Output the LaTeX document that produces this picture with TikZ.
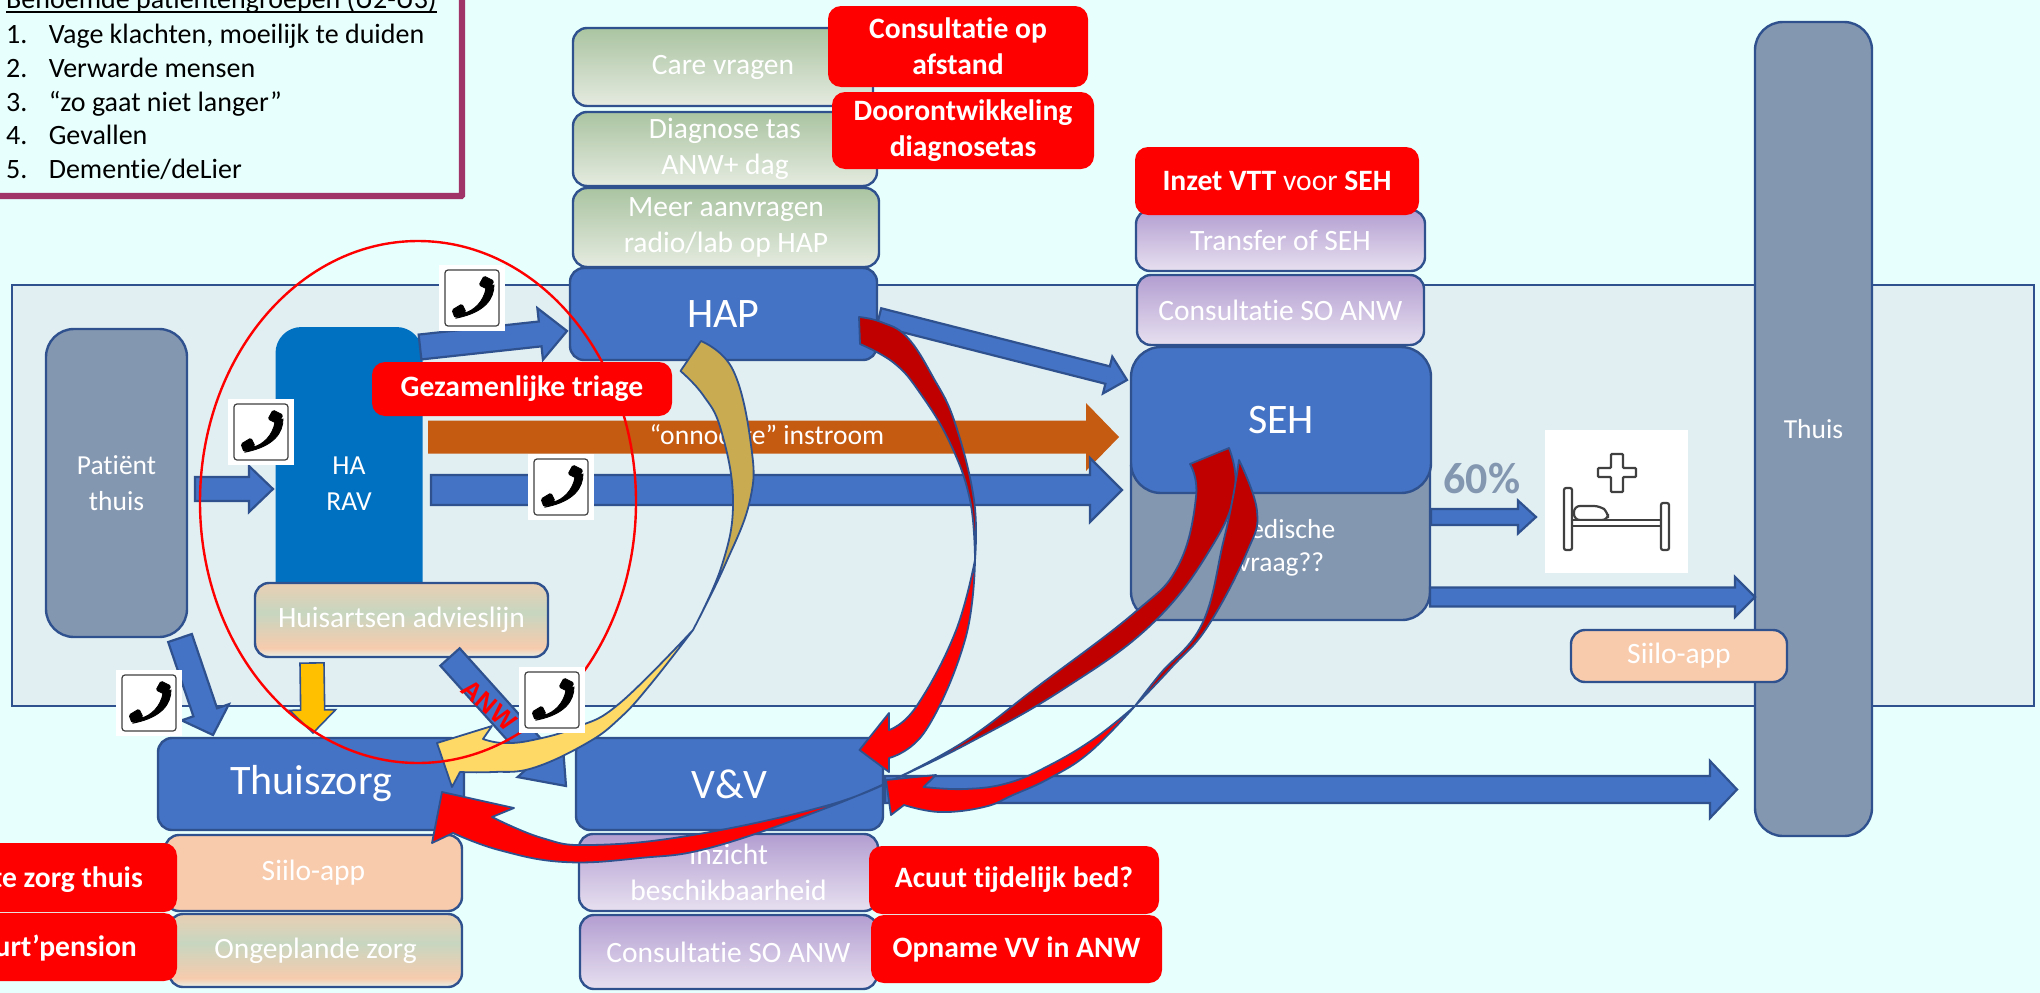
\documentclass[tikz,border=0pt]{standalone}
\usepackage{fontspec}
\setmainfont[Ligatures=NoCommon]{Carlito}
\newfontfamily\arialfont{Liberation Sans}
\usetikzlibrary{calc}
\definecolor{bgc}{HTML}{E7FFFD}
\definecolor{panelc}{HTML}{E1EFF3}
\definecolor{linec}{HTML}{2F528F}
\definecolor{bluec}{HTML}{4472C4}
\definecolor{grayc}{HTML}{8497B0}
\definecolor{hac}{HTML}{0070C0}
\definecolor{peachc}{HTML}{F8CBAD}
\definecolor{legc}{HTML}{A03468}
\definecolor{redc}{HTML}{FF0000}
\definecolor{darkred}{HTML}{C00000}
\definecolor{goldc}{HTML}{C9AB52}
\definecolor{yellc}{HTML}{FFD966}
\definecolor{ambc}{HTML}{FFC000}
\definecolor{orc}{HTML}{C55A11}
\definecolor{pA}{HTML}{E8F2EA}
\definecolor{pB}{HTML}{F7CBAD}
\definecolor{pC}{HTML}{C7D6C0}
\definecolor{pD}{HTML}{E9CFB3}
\pgfdeclareverticalshading{peachmix}{100bp}{color(0bp)=(pA);color(25bp)=(pA);color(31bp)=(pB);color(55bp)=(pC);color(75bp)=(pD);color(100bp)=(pD)}
\newcommand\mk[7]{\node[#1,minimum width={(#5-#3)*1pt},minimum height={(#6-#4)*1pt}] (#2) at ({(#3+#5)/2},{(#4+#6)/2}) {#7};}
\newcommand\blockarrow[6][barrow]{%
  \coordinate (ba) at ($(#3)!#6!(#2)$);
  \draw[#1] ($(#2)!#4!90:(#3)$) -- ($(ba)!#4!-90:(#2)$) -- ($(ba)!#5!-90:(#2)$) -- (#3) -- ($(ba)!#5!90:(#2)$) -- ($(ba)!#4!90:(#2)$) -- ($(#2)!#4!-90:(#3)$) -- cycle;}
\tikzset{
  basebox/.style={draw=linec,line width=2.4pt,rounded corners=14pt,inner sep=0pt,outer sep=0pt,align=center,text=white,font=\fontsize{29.5}{36}\selectfont},
  blue box/.style={basebox,fill=bluec,font=\fontsize{42}{46}\selectfont},
  gray box/.style={basebox,fill=grayc,rounded corners=28pt,font=\fontsize{27.5}{36}\selectfont},
  green box/.style={basebox,shading=axis,top color={rgb,255:red,170;green,196;blue,161},bottom color={rgb,255:red,229;green,235;blue,224}},
  purple box/.style={basebox,shading=axis,top color={rgb,255:red,179;green,158;blue,209},bottom color={rgb,255:red,231;green,224;blue,240}},
  peach box/.style={basebox,fill=peachc},
  mix box/.style={basebox,shading=peachmix},
  red box/.style={draw=none,fill=redc,rounded corners=13pt,inner sep=0pt,outer sep=0pt,align=center,text=white,font=\fontsize{29.6}{36}\selectfont\bfseries},
  barrow/.style={draw=linec,line width=2.2pt,fill=bluec,line join=miter},
  oarrow/.style={draw=none,fill=orc},
  yarrow/.style={draw=linec,line width=1.6pt,fill=ambc},
  curve/.style={draw=linec,line width=1.8pt,line join=round},
  leg/.style={anchor=base west,inner sep=0pt,font=\fontsize{28}{30}\selectfont,text=black},
  pics/phoneicon/.style={code={
    \fill[white] (-33,-33) rectangle (33,33);
    \draw[black!75,line width=1.2pt,fill=white,rounded corners=3pt] (-27,-28) rectangle (27,28);
    \filldraw[black,line width=0.8pt] (22,-13) .. controls (22,0) and (14,14) .. (-15,20) -- (-8,15) .. controls (2,13) and (12,3) .. (14,-10) -- cycle;
    \filldraw[black,line width=0.8pt,rounded corners=1.5pt] (12,-22) -- (22,-17) -- (17,-8) -- (7,-13) -- cycle;
    \filldraw[black,line width=0.8pt,rounded corners=1.5pt] (-20,12) -- (-10,6) -- (-6,14) -- (-17,20) -- cycle;
  }}
}
\begin{document}
\begin{tikzpicture}[x=1pt,y=-1pt]
\useasboundingbox (0,0) rectangle (2040,993);
\fill[bgc] (0,0) rectangle (2040,993);
% panel and legend
\draw[linec,line width=2.6pt,fill=panelc] (12,285) rectangle (2034,706);
\draw[legc,line width=6.4pt,fill=bgc,rounded corners=1pt] (-10,-10) rectangle (462,196);
\node[leg] (lh) at (6,9) {\rlap{Benoemde patiëntengroepen (U2-U3)}\rule[-3.8pt]{431pt}{1.5pt}};
\node[leg] (l1) at (6,43) {\makebox[42.6pt][l]{1.}Vage klachten, moeilijk te duiden};
\node[leg] (l2) at (6,77) {\makebox[42.6pt][l]{2.}Verwarde mensen};
\node[leg] (l3) at (6,111) {\makebox[42.6pt][l]{3.}“zo gaat niet langer”};
\node[leg] (l4) at (6,144) {\makebox[42.6pt][l]{4.}Gevallen};
\node[leg] (l5) at (6,178) {\makebox[42.6pt][l]{5.}Dementie/deLier};
% main column boxes
\mk{gray box}{thuis}{1755}{22}{1872}{836}{Thuis}
\mk{gray box}{pat}{46}{329}{187}{637}{Patiënt\\thuis}
\node[gray box,draw=none,fill=hac,rounded corners=26pt,minimum width=147pt,minimum height=313pt] (ha) at (349,483.5) {HA\\RAV};
\mk{mix box}{advies}{255}{583}{548}{657}{Huisartsen advieslijn}
\mk{green box}{care}{573}{28}{873}{106}{Care vragen}
\mk{green box}{diag}{573}{112}{877}{186}{Diagnose tas\\ANW+ dag}
\mk{green box}{meer}{573}{188}{879}{267}{Meer aanvragen\\radio/lab op HAP}
\mk{blue box}{hap}{570}{268}{877}{360}{HAP}
\mk{gray box}{med}{1131}{440}{1430}{620}{}
\node[text=white,align=center,font=\fontsize{27.5}{33}\selectfont] (medt) at (1281,548) {Medische\\vraag??};
\mk{purple box}{trans}{1136}{210}{1425}{271}{Transfer of SEH}
\mk{purple box}{cso}{1137}{275}{1424}{345}{Consultatie SO ANW}
\node[blue box,rounded corners=30pt,minimum width=300pt,minimum height=146pt] (seh) at (1281,420) {SEH};
\mk{peach box}{siiloR}{1571}{630}{1787}{682}{Siilo-app}
\mk{blue box}{tz}{158}{738}{464}{830}{Thuiszorg}
\mk{blue box}{vv}{576}{738}{883}{830}{V\&V}
\mk{peach box}{siiloL}{165}{835}{462}{911}{Siilo-app}
\mk{mix box}{ong}{169}{914}{462}{987}{Ongeplande zorg}
\mk{purple box}{inz}{579}{834}{878}{911}{Inzicht\\beschikbaarheid}
\mk{purple box}{cso2}{580}{915}{877}{989}{Consultatie SO ANW}
% 60% and bed
\node[text=grayc,font=\fontsize{44}{48}\selectfont\bfseries] (pct) at (1482,479) {60\%};
\node[fill=white,minimum width=143pt,minimum height=143pt,inner sep=0pt] (bed) at (1616.5,501.5) {};
\draw[black!75,line width=2.2pt,fill=white,rounded corners=1pt] (1611,462) -- (1611,454) -- (1623,454) -- (1623,468) -- (1636,468) -- (1636,477) -- (1623,477) -- (1623,492) -- (1611,492) -- (1611,477) -- (1598,477) -- (1598,468) -- (1611,468) -- cycle;
\draw[black!75,line width=2.2pt,fill=white,rounded corners=6pt] (1574,520) -- (1574,506) -- (1600,506) -- (1608,512) -- (1608,520) -- cycle;
\draw[black!75,line width=2.2pt,fill=white] (1571,520) rectangle (1662,526);
\draw[black!75,line width=2.2pt,fill=white,rounded corners=2pt] (1564,488) rectangle (1572,550);
\draw[black!75,line width=2.2pt,fill=white,rounded corners=2pt] (1661,503) rectangle (1669,550);
% straight block arrows
\coordinate (a1s) at (195,489); \coordinate (a1e) at (273,489);
\blockarrow{a1s}{a1e}{12pt}{23pt}{24pt}
\coordinate (a2s) at (420,347); \coordinate (a2e) at (567,331);
\blockarrow{a2s}{a2e}{12.5pt}{26pt}{27pt}
\coordinate (a3s) at (428,437); \coordinate (a3e) at (1119,437);
\blockarrow[oarrow]{a3s}{a3e}{16.5pt}{34pt}{33pt}
\node[text=white,font=\fontsize{27.6}{30}\selectfont] (onn) at (767,437) {“onnodige” instroom};
\coordinate (a4s) at (431,490); \coordinate (a4e) at (1122,490);
\blockarrow{a4s}{a4e}{15pt}{32pt}{32pt}
\coordinate (a5s) at (879,317); \coordinate (a5e) at (1127,380);
\blockarrow{a5s}{a5e}{9pt}{19pt}{20pt}
\coordinate (a6s) at (180,638); \coordinate (a6e) at (213,735);
\blockarrow{a6s}{a6e}{12.5pt}{25pt}{24pt}
\coordinate (a7s) at (312,663); \coordinate (a7e) at (313,733);
\blockarrow[yarrow]{a7s}{a7e}{12pt}{23pt}{23pt}
\coordinate (a8s) at (450,657); \coordinate (a8e) at (566,786);
\blockarrow{a8s}{a8e}{13pt}{30pt}{39pt}
\node[text=redc,rotate=-41,font=\arialfont\fontsize{26}{28}\selectfont\bfseries] (anw) at (489,705) {ANW};
\coordinate (a9s) at (1431,517); \coordinate (a9e) at (1536,517);
\blockarrow{a9s}{a9e}{8pt}{16.5pt}{18pt}
\coordinate (a10s) at (1430,597); \coordinate (a10e) at (1755,597);
\blockarrow{a10s}{a10e}{9.5pt}{20pt}{20pt}
\coordinate (a11s) at (885,789.5); \coordinate (a11e) at (1737,789.5);
\blockarrow{a11s}{a11e}{13.5pt}{28.5pt}{27pt}
% gold and yellow curved arrow
\draw[curve,fill=goldc] plot[smooth,tension=0.7] coordinates {(701,341) (733,370) (751,445) (750,500) (725,565) (693,630)} -- plot[smooth,tension=0.7] coordinates {(693,630) (722,565) (733,500) (721,430) (703,395) (680.5,371)} -- cycle;
\draw[curve,fill=yellc] plot[smooth,tension=0.7] coordinates {(693,630) (650,685) (620,718) (587,743) (533,768) (493,772) (460,772)} -- (452,787) -- (437,743) -- (492,726) -- plot[smooth,tension=0.7] coordinates {(483,739) (503,743) (533,740) (577,727) (620,703) (693,630)} -- cycle;
% red curved arrow HAP to V&V
\draw[curve,fill=darkred] plot[smooth,tension=0.7] coordinates {(859,317) (881,322) (907,337) (933,377) (955,423) (974,500) (975,560)} -- plot[smooth,tension=0.7] coordinates {(975,560) (970,500) (950,443) (920,393) (894,363) (860,344)} -- cycle;
\draw[curve,fill=redc] plot[smooth,tension=0.7] coordinates {(975,560) (965,640) (926,730) (889,758)} -- (889,772) -- (859.5,750) -- (889,713) -- plot[smooth,tension=0.7] coordinates {(889,730) (916,707) (955,633) (975,560)} -- cycle;
% red curved arrow SEH to Thuiszorg
\draw[curve,fill=darkred] plot[smooth,tension=0.7] coordinates {(1229,448) (1235,488) (1214,543) (1154,622) (1062,690) (965,745) (897,778)} -- plot[smooth,tension=0.7] coordinates {(897,778) (965,741) (1037,687) (1134,613) (1178,566) (1196,497) (1190,464)} -- cycle;
\draw[curve,fill=redc] plot[smooth,tension=0.7] coordinates {(897,778) (829,807) (713,847) (640,858) (564,862) (499,850) (453,833)} -- (432,843) -- (442,792) -- (514,808) -- plot[smooth,tension=0.7] coordinates {(492,817) (542,838) (591,845) (693,835) (829,805) (897,778)} -- cycle;
% red curved arrow SEH to V&V
\draw[curve,fill=darkred] plot[smooth,tension=0.7] coordinates {(1239,460) (1257,511) (1247,552) (1208,626) (1172,667) (1135,706)} -- plot[smooth,tension=0.7] coordinates {(1135,706) (1160,674) (1202,624) (1223,543) (1233,497) (1239,460)} -- cycle;
\draw[curve,fill=redc] plot[smooth,tension=0.7] coordinates {(1135,706) (1090,752) (1050,778) (1013,795) (984,807) (940,812) (904,805)} -- (891,815) -- (886,780) -- (936,775) -- plot[smooth,tension=0.7] coordinates {(923.5,787) (965,789) (1008,783) (1050,765) (1095,738) (1135,706)} -- cycle;
% ellipse
\draw[redc,line width=2.4pt] (418,502) ellipse [x radius=218, y radius=261];
% red boxes
\mk{red box}{rtriage}{372}{362}{672}{416}{Gezamenlijke triage}
\mk{red box}{rcons}{828}{6}{1088}{87}{Consultatie op\\afstand}
\mk{red box}{rdoor}{832}{92}{1094}{169}{Doorontwikkeling\\diagnosetas}
\mk{red box}{rinzet}{1135}{147}{1419}{215}{Inzet VTT {\mdseries voor} SEH}
\mk{red box}{racuut}{869}{846}{1159}{914}{Acuut tijdelijk bed?}
\mk{red box}{ropn}{871}{915}{1162}{983}{Opname VV in ANW}
\mk{red box}{rzorg}{-60}{843}{177}{912}{}
\mk{red box}{rpens}{-60}{913}{177}{981}{}
\node[anchor=east,inner sep=0pt,text=white,font=\fontsize{29.6}{36}\selectfont\bfseries] (rzorgt) at (143,880) {te zorg thuis};
\node[anchor=east,inner sep=0pt,text=white,font=\fontsize{29.6}{36}\selectfont\bfseries] (rpenst) at (137,948) {urt’pension};
% phones
\pic at (261,432) {phoneicon};
\pic at (472,298) {phoneicon};
\pic at (561,487) {phoneicon};
\pic at (149,703) {phoneicon};
\pic at (552,700) {phoneicon};
\end{tikzpicture}
\end{document}
